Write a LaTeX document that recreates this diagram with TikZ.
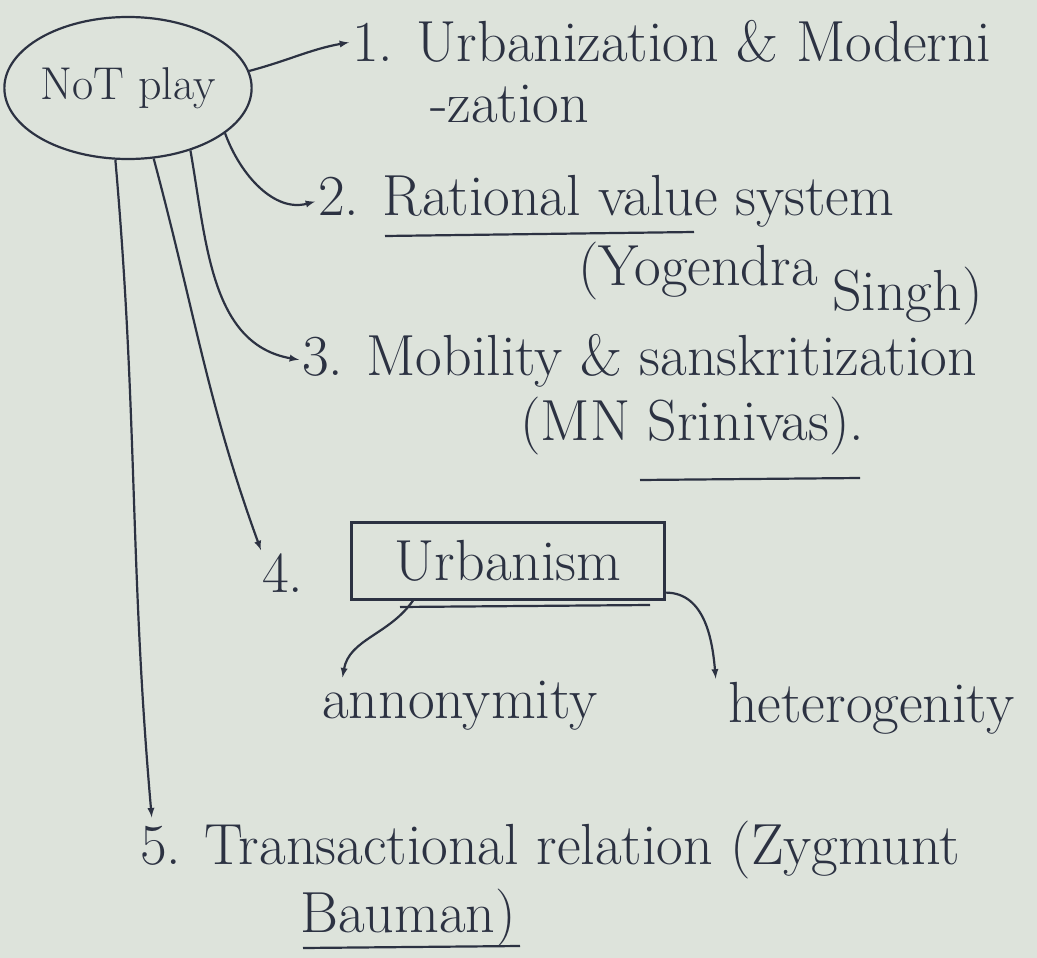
\documentclass[tikz,border=0pt]{standalone}
\usepackage{fontspec}
\usetikzlibrary{shapes.geometric}
\definecolor{ink}{RGB}{44,50,66}
\definecolor{paper}{RGB}{221,227,219}
\tikzset{
  txt/.style={anchor=base west, inner sep=0pt, text=ink, font=\fontsize{58}{64}\selectfont},
  link/.style={->, line width=2.2pt, draw=ink, shorten >=3pt},
  pen/.style={line width=2.2pt, draw=ink},
}
\begin{document}
\begin{tikzpicture}[>=latex, x=1pt, y=-1pt]
\fill[paper] (0,0) rectangle (1037,958);
\useasboundingbox (0,0) rectangle (1037,958);

\node[txt, pen, ellipse, anchor=center, minimum width=240pt, minimum height=142pt, font=\fontsize{46}{52}\selectfont] (np) at (128,88) {NoT play};

\node[txt] (t1) at (352,62) {1. Urbanization \& Moderni};
\node[txt] (t1b) at (430,122) {-zation};
\node[txt] (t2) at (318,215) {2. Rational value system};
\node[txt] (t2b) at (578,285) {(Yogendra};
\node[txt] (t2c) at (832,310) {Singh)};
\node[txt] (t3) at (302,375) {3. Mobility \& sanskritization};
\node[txt] (t3b) at (520,440) {(MN Srinivas).};
\node[txt] (t4) at (262,592) {4.};
\node[txt, pen, anchor=center, minimum width=313pt, minimum height=77pt] (urb) at (508,561) {Urbanism};
\node[txt] (anon) at (322,718) {annonymity};
\node[txt] (het) at (728,722) {heterogenity};
\node[txt] (t5) at (140,864) {5. Transactional relation (Zygmunt};
\node[txt] (t5b) at (300,932) {Bauman)};

% underlines
\draw[pen] (385,236)--(694,232);
\draw[pen] (640,480)--(860,478);
\draw[pen] (400,607)--(650,605);
\draw[pen] (303,948)--(520,946);

\draw[link] (np.8) to[out=15,in=190] (t1.west);
\draw[link] (np.-25) to[out=-70,in=195] (t2.west);
\draw[link] (np.-45) to[out=-80,in=170] (t3.west);
\draw[link] (np.-70) to[out=-75,in=110] (t4.north west);
\draw[link] (np.-100) to[out=-85,in=95] ([xshift=12pt]t5.north west);

\draw[link] ([xshift=-95pt]urb.south) to[out=235,in=80] ([xshift=20pt]anon.north west);
\draw[link] ([yshift=8pt]urb.south east) to[out=0,in=95] ([xshift=-12pt]het.north west);
\end{tikzpicture}
\end{document}
